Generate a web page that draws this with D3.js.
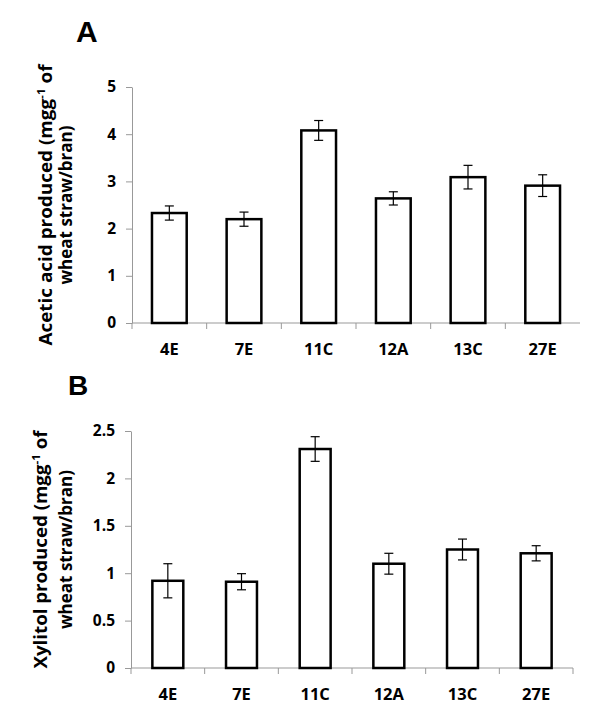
<!DOCTYPE html>
<html><head><meta charset="utf-8">
<script src="https://cdn.jsdelivr.net/npm/d3@7"></script>
<style>body{margin:0;background:#fff}</style>
</head><body>
<script>
const categories = ["4E","7E","11C","12A","13C","27E"];
const aceticValues = [2.33, 2.20, 4.08, 2.64, 3.09, 2.91];
const aceticErrors = [0.15, 0.15, 0.21, 0.14, 0.25, 0.23];
const xylitolValues = [0.92, 0.91, 2.31, 1.10, 1.25, 1.21];
const xylitolErrors = [0.18, 0.085, 0.13, 0.11, 0.11, 0.08];
const aceticTicks = [0,1,2,3,4,5];
const xylitolTicks = [0,0.5,1,1.5,2,2.5];

const svg = d3.select("body").append("svg").attr("width",600).attr("height",720);
const FONT = "'Open Sans', sans-serif";

function panel(o){
  const g = svg.append("g");
  const x = d3.scaleBand().domain(categories).range([o.x0,o.x1]).padding(0);
  const y = d3.scaleLinear().domain([0,o.max]).range([o.y0,o.y1]);
  g.append("text").attr("x",o.lx).attr("y",o.ly).text(o.letter)
    .attr("font-family","'Liberation Sans', Arial, sans-serif").attr("font-weight","bold")
    .attr("font-size",o.lsize).attr("fill","#000");
  const ya = g.append("g").attr("transform",`translate(${o.x0},0)`)
    .call(d3.axisLeft(y).tickValues(o.ticks).tickSize(6).tickPadding(10).tickFormat(d3.format("")).tickSizeOuter(0));
  ya.select(".domain").attr("stroke","#999").attr("stroke-width",1);
  ya.selectAll(".tick line").attr("stroke","#999");
  ya.selectAll(".tick text").attr("font-family",FONT).attr("font-weight",700).attr("font-size",15.5).attr("fill","#000");
  g.append("line").attr("x1",o.x0).attr("x2",o.x1).attr("y1",y(0)).attr("y2",y(0)).attr("stroke","#999");
  const bounds = categories.map(c=>x(c));
  if (o.endTick) bounds.push(x(categories[categories.length-1])+x.bandwidth());
  g.selectAll(".xt").data(bounds).join("line").attr("x1",d=>d).attr("x2",d=>d)
    .attr("y1",y(0)).attr("y2",y(0)+6).attr("stroke","#999");
  g.selectAll(".xl").data(categories).join("text")
    .attr("x",d=>x(d)+x.bandwidth()/2).attr("y",y(0)+32).attr("text-anchor","middle")
    .attr("font-family",FONT).attr("font-weight",700).attr("font-size",16.5).text(d=>d);
  const bw = x.bandwidth()*o.bwf;
  g.selectAll(".bar").data(categories).join("rect")
    .attr("x",d=>x(d)+x.bandwidth()/2-bw/2).attr("width",bw)
    .attr("y",(d,i)=>y(o.vals[i])).attr("height",(d,i)=>y(0)-y(o.vals[i]))
    .attr("fill","#fff").attr("stroke","#000").attr("stroke-width",2.5);
  const eb = g.selectAll(".eb").data(categories).join("g");
  eb.append("line").attr("x1",d=>x(d)+x.bandwidth()/2).attr("x2",d=>x(d)+x.bandwidth()/2)
    .attr("y1",(d,i)=>y(o.vals[i]+o.errs[i])).attr("y2",(d,i)=>y(o.vals[i]-o.errs[i]))
    .attr("stroke","#000").attr("stroke-width",1.2);
  [1,-1].forEach(s=>{
    eb.append("line").attr("x1",d=>x(d)+x.bandwidth()/2-4.5).attr("x2",d=>x(d)+x.bandwidth()/2+4.5)
      .attr("y1",(d,i)=>y(o.vals[i]+s*o.errs[i])).attr("y2",(d,i)=>y(o.vals[i]+s*o.errs[i]))
      .attr("stroke","#000").attr("stroke-width",1.2);
  });
  const cy = (o.y0+o.y1)/2;
  const t1 = g.append("text").attr("transform",`translate(${o.t1x},${cy}) rotate(-90)`)
    .attr("text-anchor","middle").attr("font-family",FONT).attr("font-weight",700).attr("font-size",o.tsize)
    .attr("textLength",o.len1).attr("lengthAdjust","spacingAndGlyphs");
  t1.append("tspan").text(o.title1a);
  t1.append("tspan").attr("font-size",o.tsize*0.62).attr("dy",-o.tsize*0.4).text("-1");
  t1.append("tspan").attr("dy",o.tsize*0.4).text(" of");
  g.append("text").attr("transform",`translate(${o.t2x},${cy}) rotate(-90)`)
    .attr("text-anchor","middle").attr("font-family",FONT).attr("font-weight",700).attr("font-size",o.tsize)
    .text("wheat straw/bran)");
}

panel({letter:"A",lx:76,ly:42,lsize:30,x0:132,x1:580,y0:323,y1:87,max:5,ticks:aceticTicks,endTick:false,
  vals:aceticValues,errs:aceticErrors,bwf:0.465,t1x:52,t2x:72,tsize:17,len1:281,title1a:"Acetic acid produced (mgg"});
panel({letter:"B",lx:68,ly:395,lsize:28,x0:131,x1:573,y0:668,y1:431,max:2.5,ticks:xylitolTicks,endTick:true,
  vals:xylitolValues,errs:xylitolErrors,bwf:0.42,t1x:47,t2x:72,tsize:17,len1:238,title1a:"Xylitol produced (mgg"});
</script>
</body></html>
